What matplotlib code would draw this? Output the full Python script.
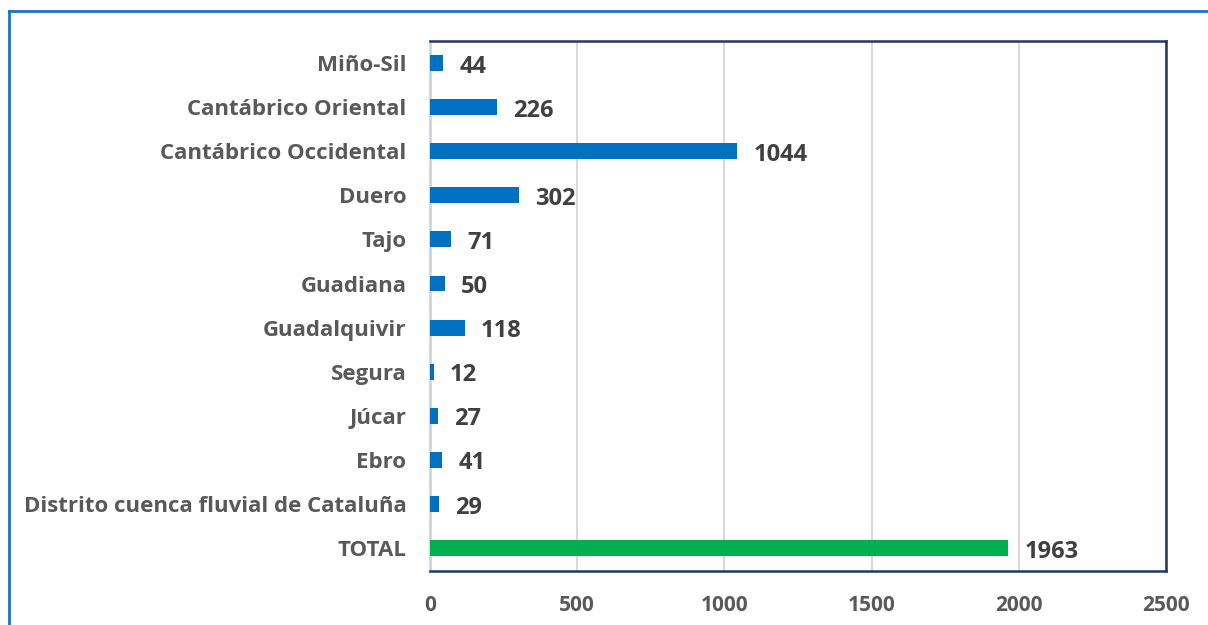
import matplotlib.pyplot as plt
from matplotlib.lines import Line2D

categories = ['Miño-Sil', 'Cantábrico Oriental', 'Cantábrico Occidental', 'Duero',
              'Tajo', 'Guadiana', 'Guadalquivir', 'Segura', 'Júcar', 'Ebro',
              'Distrito cuenca fluvial de Cataluña', 'TOTAL']
values = [44, 226, 1044, 302, 71, 50, 118, 12, 27, 41, 29, 1963]
colors = ['#0070C0'] * 11 + ['#00B050']
xticks = [0, 500, 1000, 1500, 2000, 2500]

plt.rcParams['font.family'] = ['Open Sans', 'DejaVu Sans']

fig = plt.figure(figsize=(12.08, 6.25), dpi=100)
ax = fig.add_axes([430/1208, 1 - 571/625, (1166-430)/1208, (571-41)/625])

y = list(range(len(categories)))[::-1]
ax.barh(y, values, height=0.36, color=colors, zorder=3)
for yi, v in zip(y, values):
    ax.text(v + 55, yi - 0.08, str(v), va='center', ha='left', fontsize=17,
            fontweight='bold', color='#404040', zorder=4)

ax.set_xlim(0, 2500)
ax.set_ylim(-0.52, 11.5)
ax.set_xticks(xticks)
ax.set_xticklabels([str(t) for t in xticks], fontsize=15, fontweight='bold', color='#595959')
ax.set_yticks(y)
ax.set_yticklabels(categories, fontsize=16, fontweight='bold', color='#595959')
ax.tick_params(axis='both', length=0)
ax.tick_params(axis='x', pad=17)
ax.tick_params(axis='y', pad=17)
ax.grid(axis='x', color='#D9D9D9', linewidth=1.5, zorder=0)
for s in ax.spines.values():
    s.set_color('#1F3864')
    s.set_linewidth(1.8)
ax.spines['left'].set_color('#C9CED8')

# outer border of the chart box
fig.add_artist(Line2D([9/1208, 1], [1 - 11/625, 1 - 11/625], color='#1874C4', linewidth=2))
fig.add_artist(Line2D([9/1208, 9/1208], [0, 1 - 11/625], color='#1874C4', linewidth=2))

fig.savefig('out.png', dpi=100)
